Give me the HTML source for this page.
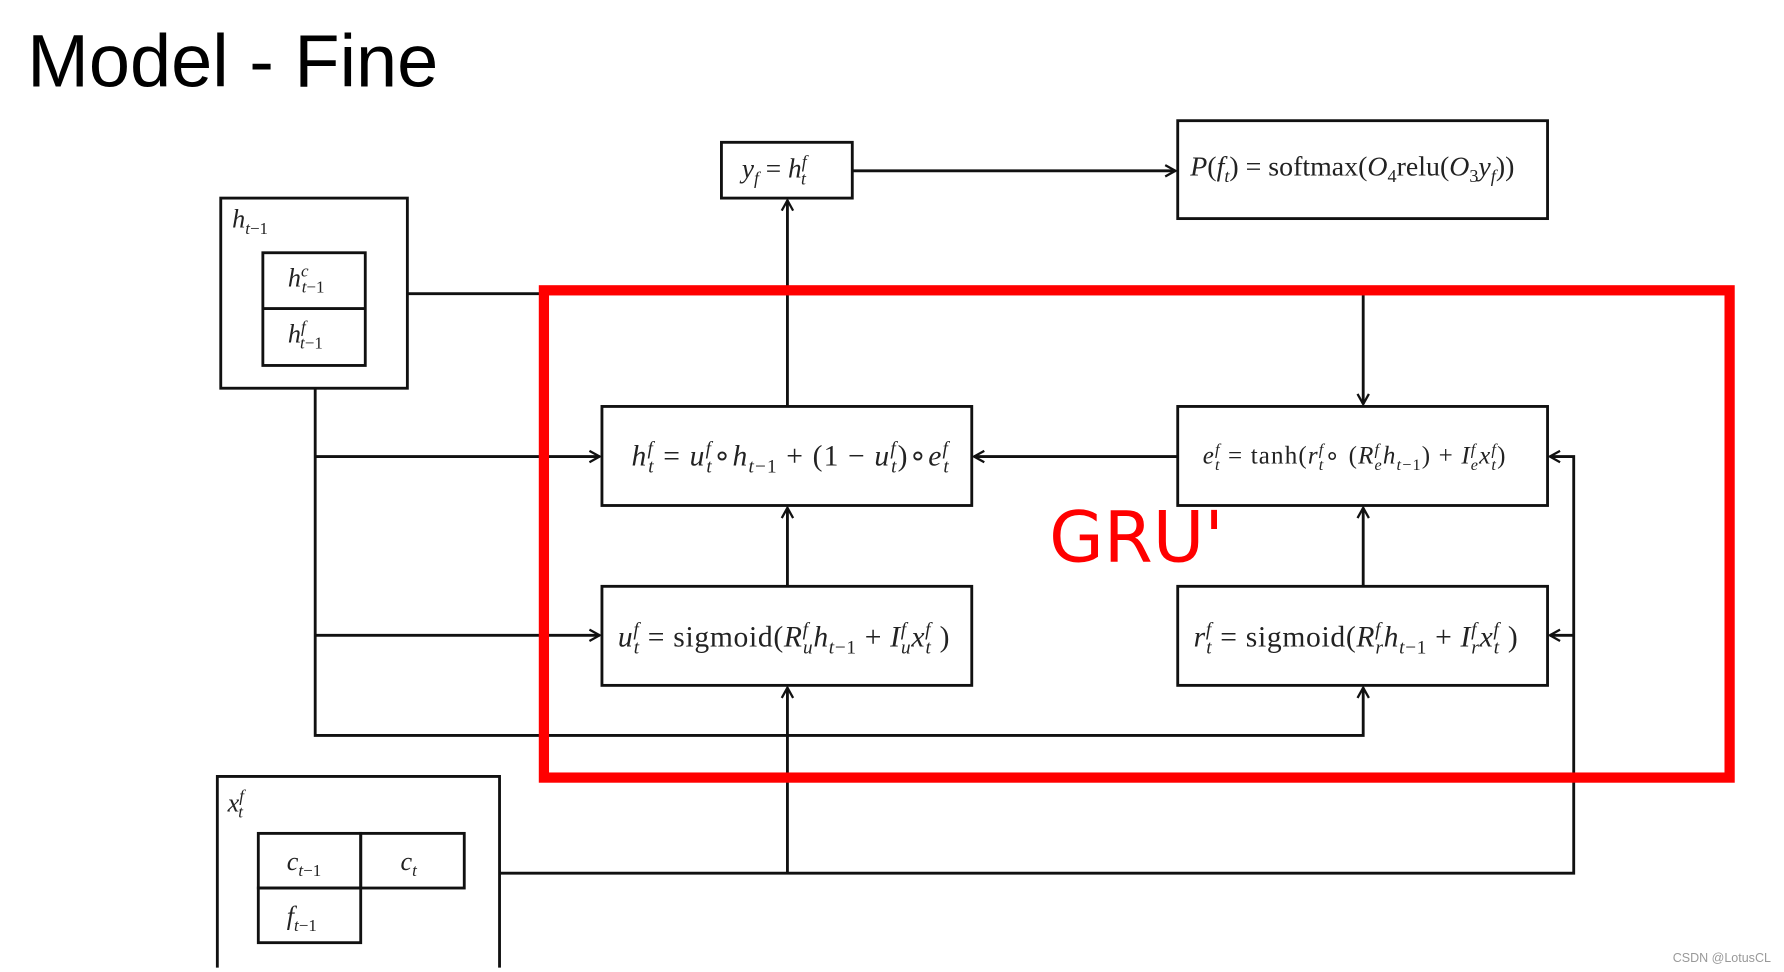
<!DOCTYPE html>
<html><head><meta charset="utf-8"><style>
html,body{margin:0;padding:0;background:#fff;width:1784px;height:972px;overflow:hidden}
#w{position:absolute;left:0;top:0;width:1560px;height:850px;transform-origin:0 0;transform:scale(1.1379,1.1385)}
.t{position:absolute;font-family:"Liberation Serif",serif;color:#222;white-space:nowrap}
.m{font-size:23px}
i{font-style:italic}
sub,sup{font-size:65%}
</style></head><body><div id="w">
<svg width="1560" height="850" style="position:absolute;left:0;top:0">
<defs><marker id="a" markerWidth="12" markerHeight="12" refX="10" refY="6" orient="auto" markerUnits="userSpaceOnUse"><path d="M1,1 L10,6 L1,11" fill="none" stroke="#111" stroke-width="2"/></marker></defs>
<g fill="none" stroke="#111" stroke-width="2.5">
<rect x="194" y="174" width="164" height="167"/>
<rect x="231" y="222" width="90" height="99"/><line x1="231" y1="271" x2="321" y2="271"/>
<rect x="634" y="125" width="115" height="49"/>
<rect x="1035" y="106" width="325" height="86"/>
<rect x="529" y="357" width="325" height="87"/>
<rect x="1035" y="357" width="325" height="87"/>
<rect x="529" y="515" width="325" height="87"/>
<rect x="1035" y="515" width="325" height="87"/>
<path d="M191,850 V682 H439 V850"/>
<rect x="227" y="732" width="90" height="48"/><rect x="317" y="732" width="91" height="48"/>
<rect x="227" y="780" width="90" height="48"/>
</g>
<g fill="none" stroke="#111" stroke-width="2.5">
<line x1="749" y1="150" x2="1033" y2="150" marker-end="url(#a)"/>
<line x1="692" y1="357" x2="692" y2="176" marker-end="url(#a)"/>
<path d="M358,258 H1198 V355" marker-end="url(#a)"/>
<line x1="1035" y1="401" x2="856" y2="401" marker-end="url(#a)"/>
<line x1="692" y1="515" x2="692" y2="446" marker-end="url(#a)"/>
<line x1="1198" y1="515" x2="1198" y2="446" marker-end="url(#a)"/>
<path d="M277,341 V646 H1198 V604" marker-end="url(#a)"/>
<line x1="277" y1="401" x2="527" y2="401" marker-end="url(#a)"/>
<line x1="277" y1="558" x2="527" y2="558" marker-end="url(#a)"/>
<path d="M439,767 H1383 V401 H1362" marker-end="url(#a)"/>
<line x1="1383" y1="558" x2="1362" y2="558" marker-end="url(#a)"/>
<line x1="692" y1="767" x2="692" y2="604" marker-end="url(#a)"/>
</g>
<rect x="478" y="255" width="1042" height="428" fill="none" stroke="#f00" stroke-width="9"/>
<text x="24" y="76" font-family="Liberation Sans,sans-serif" font-size="65" fill="#000">Model - Fine</text>
<text x="922" y="493" font-family="DejaVu Sans,sans-serif" font-size="62" fill="#f00">GRU'</text>
<text x="1470" y="845" font-family="Liberation Sans,sans-serif" font-size="11" fill="#999">CSDN @LotusCL</text>
</svg>
<div class="t m" style="left:204px;top:180px"><i>h</i><sub><i>t</i>−1</sub></div>
<div class="t m" style="left:253px;top:231px"><i>h</i><sup><i>c</i></sup><sub style="margin-left:-6px"><i>t</i>−1</sub></div>
<div class="t m" style="left:253px;top:280px"><i>h</i><sup><i>f</i></sup><sub style="margin-left:-5px"><i>t</i>−1</sub></div>
<div class="t m" style="left:652px;top:134px;font-size:24px"><i>y<sub>f</sub></i> = <i>h</i><sup><i>f</i></sup><sub style="margin-left:-5px"><i>t</i></sub></div>
<div class="t" style="left:1046px;top:133px;font-size:24.5px"><i>P</i>(<i>f<sub>t</sub></i>) = softmax(<i>O</i><sub>4</sub>relu(<i>O</i><sub>3</sub><i>y<sub>f</sub></i>))</div>
<div class="t" style="left:555px;top:384px;font-size:26px;letter-spacing:1px"><i>h</i><sup><i>f</i></sup><sub style="margin-left:-5px"><i>t</i></sub> = <i>u</i><sup><i>f</i></sup><sub style="margin-left:-5px"><i>t</i></sub>∘<i>h</i><sub><i>t</i>−1</sub> + (1 − <i>u</i><sup><i>f</i></sup><sub style="margin-left:-5px"><i>t</i></sub>)∘<i>e</i><sup><i>f</i></sup><sub style="margin-left:-5px"><i>t</i></sub></div>
<div class="t" style="left:1057px;top:387px;font-size:22px;letter-spacing:1px"><i>e</i><sup><i>f</i></sup><sub style="margin-left:-5px"><i>t</i></sub> = tanh(<i>r</i><sup><i>f</i></sup><sub style="margin-left:-5px"><i>t</i></sub>∘ (<i>R</i><sup><i>f</i></sup><sub style="margin-left:-5px"><i>e</i></sub><i>h</i><sub><i>t</i>−1</sub>) + <i>I</i><sup><i>f</i></sup><sub style="margin-left:-5px"><i>e</i></sub><i>x</i><sup><i>f</i></sup><sub style="margin-left:-5px"><i>t</i></sub>)</div>
<div class="t" style="left:543px;top:543px;font-size:26px;letter-spacing:0.6px"><i>u</i><sup><i>f</i></sup><sub style="margin-left:-5px"><i>t</i></sub> = sigmoid(<i>R</i><sup><i>f</i></sup><sub style="margin-left:-5px"><i>u</i></sub><i>h</i><sub><i>t</i>−1</sub> + <i>I</i><sup><i>f</i></sup><sub style="margin-left:-5px"><i>u</i></sub><i>x</i><sup><i>f</i></sup><sub style="margin-left:-5px"><i>t</i></sub> )</div>
<div class="t" style="left:1049px;top:543px;font-size:26px;letter-spacing:0.6px"><i>r</i><sup><i>f</i></sup><sub style="margin-left:-5px"><i>t</i></sub> = sigmoid(<i>R</i><sup><i>f</i></sup><sub style="margin-left:-5px"><i>r</i></sub><i>h</i><sub><i>t</i>−1</sub> + <i>I</i><sup><i>f</i></sup><sub style="margin-left:-5px"><i>r</i></sub><i>x</i><sup><i>f</i></sup><sub style="margin-left:-5px"><i>t</i></sub> )</div>
<div class="t m" style="left:200px;top:692px"><i>x</i><sup><i>f</i></sup><sub style="margin-left:-5px"><i>t</i></sub></div>
<div class="t m" style="left:252px;top:744px"><i>c</i><sub><i>t</i>−1</sub></div>
<div class="t m" style="left:352px;top:744px"><i>c</i><sub><i>t</i></sub></div>
<div class="t m" style="left:252px;top:792px"><i>f</i><sub><i>t</i>−1</sub></div>
</div></body></html>
